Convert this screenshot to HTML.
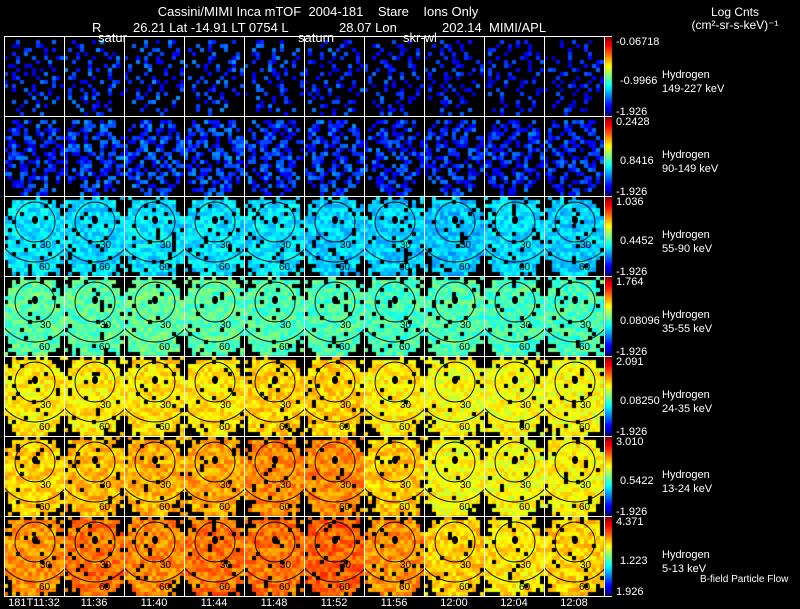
<!DOCTYPE html>
<html><head><meta charset="utf-8">
<style>
html,body{margin:0;padding:0;background:#000;}
#wrap{position:relative;width:800px;height:609px;overflow:hidden;background:#000;font-family:"Liberation Sans Narrow","Liberation Sans",sans-serif;}
canvas,svg{position:absolute;left:0;top:0;}
text{white-space:pre;}
</style></head>
<body>
<div id="wrap">
<canvas id="cv" width="800" height="609"></canvas>
<svg id="sv" width="800" height="609"></svg>
</div>
<script>
// ---- data ----
const timeLabels = ["181T11:32","11:36","11:40","11:44","11:48","11:52","11:56","12:00","12:04","12:08"];
const energyLabels = ["149-227 keV","90-149 keV","55-90 keV","35-55 keV","24-35 keV","13-24 keV","5-13 keV"];
const cbarTop = ["-0.06718","0.2428","1.036","1.764","2.091","3.010","4.371"];
const cbarMid = ["-0.9966","0.8416","0.4452","0.08096","0.08250","0.5422","1.223"];
const cbarBot = ["-1.926","-1.926","-1.926","-1.926","-1.926","-1.926","1.926"];
// mean normalized intensity (0..1 colormap) per row/panel
const meanRow0 = [0.15,0.17,0.17,0.17,0.16,0.15,0.14,0.14,0.13,0.13];
const meanRow1 = [0.16,0.18,0.18,0.18,0.17,0.17,0.16,0.15,0.16,0.15];
const meanRow2 = [0.35,0.34,0.35,0.35,0.35,0.33,0.33,0.32,0.34,0.33];
const meanRow3 = [0.46,0.46,0.47,0.46,0.45,0.45,0.44,0.45,0.44,0.44];
const meanRow4 = [0.64,0.64,0.65,0.65,0.67,0.67,0.64,0.62,0.62,0.62];
const meanRow5 = [0.67,0.69,0.7,0.71,0.74,0.74,0.68,0.62,0.62,0.63];
const meanRow6 = [0.73,0.76,0.74,0.76,0.76,0.78,0.73,0.67,0.65,0.67];
const fillFrac = [0.3,0.55,0.9,0.93,0.94,0.94,0.94];
const means=[meanRow0,meanRow1,meanRow2,meanRow3,meanRow4,meanRow5,meanRow6];

// ---- layout ----
const X0=4, PW=60, Y0=36, PH=80, CELL=4;
const px=c=>X0+c*PW, py=r=>Y0+r*PH;
function jet(v){v=Math.max(0,Math.min(1,v));
 const r=Math.max(0,Math.min(1,1.5-Math.abs(4*v-3))),g=Math.max(0,Math.min(1,1.5-Math.abs(4*v-2))),b=Math.max(0,Math.min(1,1.5-Math.abs(4*v-1)));
 return `rgb(${r*255|0},${g*255|0},${b*255|0})`;}
function hash(a,b,c,d){let h=(a*374761393+b*668265263+c*2147483647+d*1274126177)|0;h=(h^(h>>>13))*1274126177|0;return ((h^(h>>>16))>>>0)/4294967295;}

const ctx=document.getElementById('cv').getContext('2d');
for(let r=0;r<7;r++)for(let c=0;c<10;c++){
 for(let i=0;i<15;i++)for(let j=0;j<20;j++){
  const cx=i*CELL+2-30, cy=j*CELL+2-40;
  const d=Math.sqrt((cx/30)*(cx/30)+(cy/42)*(cy/42));
  const h=hash(r,c,i,j);
  if(d>1.05&&h<0.75)continue;
  if(j<1&&h<0.6)continue;
  if(h>fillFrac[r])continue;
  const amp=r<2?0.2:0.12;
  const v=means[r][c]+(hash(c,r,j,i+7)-0.5)*amp;
  ctx.fillStyle=jet(v);ctx.fillRect(px(c)+i*CELL,py(r)+j*CELL,CELL,CELL);
 }
}
for(let r=0;r<7;r++){const g=ctx.createLinearGradient(0,py(r)+PH,0,py(r));
 [0,0.125,0.375,0.625,0.875,1].forEach(s=>g.addColorStop(s,jet(s)));
 ctx.fillStyle=g;ctx.fillRect(605,py(r)+1,7,PH-2);}

const NS='http://www.w3.org/2000/svg', sv=document.getElementById('sv');
function mk(t,a,parent){const e=document.createElementNS(NS,t);for(const k in a)e.setAttribute(k,a[k]);(parent||sv).appendChild(e);return e;}
function txt(x,y,s,size,anchor){const e=mk('text',{x:x,y:y,fill:'#fff','font-size':size||11,'text-anchor':anchor||'start'});e.textContent=s;return e;}
const defs=mk('defs',{});
for(let r=0;r<7;r++)for(let c=0;c<10;c++){
 const cp=mk('clipPath',{id:'cp'+r+'_'+c},defs);mk('rect',{x:px(c),y:py(r),width:PW,height:PH},cp);
 if(r<2)continue;
 const g=mk('g',{'clip-path':`url(#cp${r}_${c})`});
 
 
 const cx=px(c)+31, cy=py(r)+26;
 mk('circle',{cx:cx,cy:cy,r:20,fill:'none',stroke:'#000','stroke-width':0.9},g);
 mk('circle',{cx:cx,cy:cy,r:40,fill:'none',stroke:'#000','stroke-width':0.9},g);
 mk('ellipse',{cx:cx,cy:cy-2,rx:3,ry:4,fill:'#000'},g);
 const t1=mk('text',{x:cx+5,y:cy+26,'font-size':10,fill:'#000'},g);t1.textContent='30';
 const t2=mk('text',{x:cx+4,y:cy+48,'font-size':10,fill:'#000'},g);t2.textContent='60';
}
// grid lines
for(let c=0;c<=10;c++){const l=mk('line',{x1:px(c)+0.5,y1:Y0,x2:px(c)+0.5,y2:py(7),stroke:'#fff'});
 
 }
for(let r=0;r<=7;r++){const l=mk('line',{x1:X0,y1:py(r)+0.5,x2:612,y2:py(r)+0.5,stroke:'#fff'});
 
 }
// row labels
for(let r=0;r<7;r++){const y=py(r);
 let e=txt(616,y+9,cbarTop[r],11);
 e=txt(620,y+48,cbarMid[r],11);
 e=txt(616,y+79,cbarBot[r],11);
 e=txt(662,y+42,'Hydrogen',11);
 e=txt(662,y+56,energyLabels[r],11);}
timeLabels.forEach((t,c)=>{const e=txt(px(c)+30,606,t,11,'middle');
 
 });
let e;
e=txt(318,16,'Cassini/MIMI Inca mTOF  2004-181    Stare    Ions Only',13,'middle');
e=txt(92,32,'R',13);
e=txt(133,32,'26.21 Lat -14.91 LT 0754 L',13);
e=txt(339,32,'28.07 Lon',13);
e=txt(442,32,'202.14  MIMI/APL',13);
e=txt(98,42,'satur',13);
e=txt(298,42,'saturn',13);
e=txt(403,42,'skr-wl',13);
e=txt(735,16,'Log Cnts',12,'middle');
e=txt(735,29,'(cm²-sr-s-keV)⁻¹',12,'middle');
e=txt(700,582,'B-field Particle Flow',10);
</script>
</body></html>
